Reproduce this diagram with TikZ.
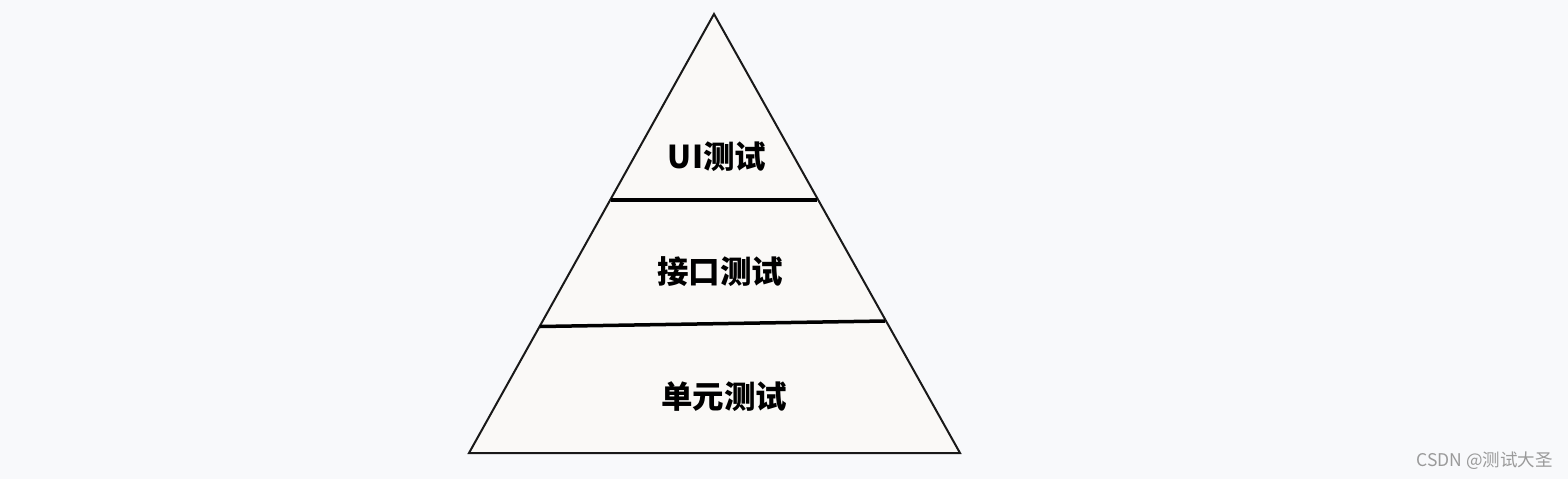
\documentclass[tikz,border=0pt]{standalone}
\usepackage{fontspec}
\newfontfamily\cjk{Noto Sans CJK SC}
\newfontfamily\cjkh{Noto Sans CJK SC}[FakeBold=1.5]
\definecolor{bg}{HTML}{F8F9FB}
\definecolor{tri}{HTML}{FAF9F7}
\definecolor{wm}{HTML}{9A9A9A}
\begin{document}
\begin{tikzpicture}[x=1pt,y=-1pt,
  lbl/.style={font=\cjk\bfseries\fontsize{31.5}{34}\selectfont, text=black, inner sep=0pt},
  divider/.style={line width=3.5pt, black},
  outline/.style={draw=black!90, line width=2pt, fill=tri, line join=miter}]
\fill[bg] (0,0) rectangle (1568,479);
\useasboundingbox (0,0) rectangle (1568,479);
\coordinate (apex) at (714,14);
\coordinate (bl) at (469,453);
\coordinate (br) at (960,453);
\filldraw[outline] (apex) -- (br) -- (bl) -- cycle;
\coordinate (d1l) at (611,200);
\coordinate (d1r) at (817,200);
\coordinate (d2l) at (540,326.5);
\coordinate (d2r) at (885,321);
\draw[divider] (d1l) -- (d1r);
\draw[divider] (d2l) -- (d2r);
\node[lbl] (ui) at (717,157) {UI测试};
\node[lbl] (api) at (720,272) {接口测试};
\node[lbl] (unit) at (724,397) {单元测试};
\node[font=\cjk\fontsize{17.5}{19}\selectfont, text=wm, inner sep=0pt] (wmk) at (1484.5,461) {CSDN @测试大圣};
\end{tikzpicture}
\end{document}
